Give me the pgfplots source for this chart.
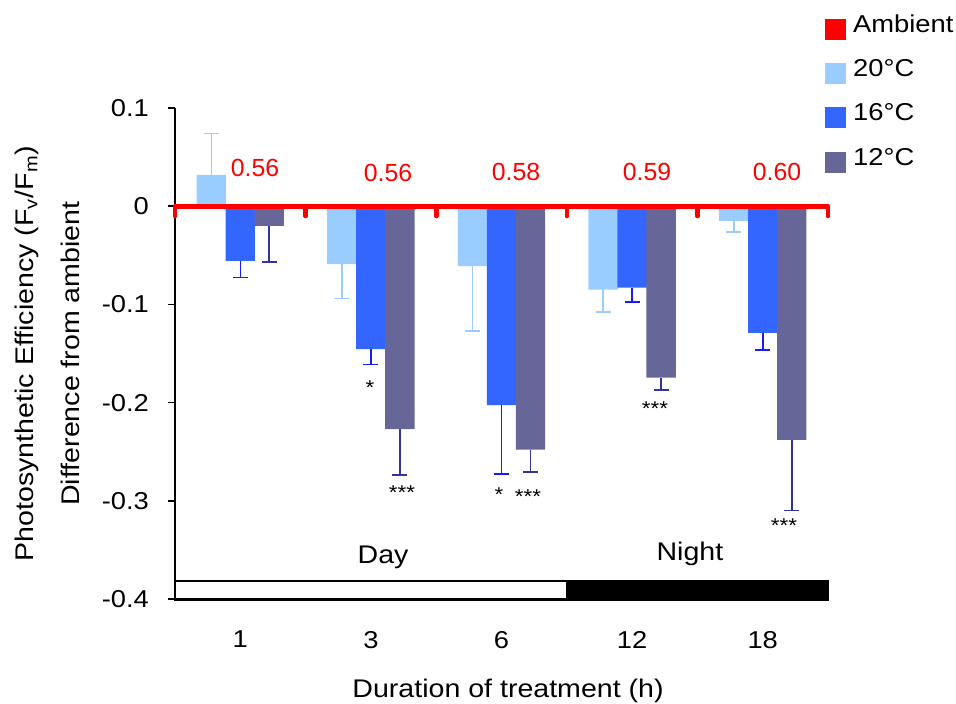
\documentclass[border=0pt]{standalone}
\usepackage{fontspec}
\setmainfont{Liberation Sans}[FakeStretch=1.12]
\newfontfamily\redfont{Liberation Sans}
\usepackage{pgfplots}
\pgfplotsset{compat=1.18}
\definecolor{c20}{HTML}{99CCFF}
\definecolor{c16}{HTML}{3366FF}
\definecolor{c12}{HTML}{666699}
\definecolor{e16}{HTML}{1A1AFF}
\definecolor{e12}{HTML}{333399}
\pgfplotsset{
  errstyle/.style 2 args={draw=none, forget plot,
    error bars/.cd, y dir=#1, y explicit,
    error bar style={#2, line width=0.8pt},
    error mark options={rotate=90, #2, mark size=3.75pt, line width=0.8pt}},
}
\begin{document}
\begin{tikzpicture}[font=\fontsize{12.75}{15.3}\selectfont]
\begin{axis}[
  name=ax,
  scale only axis,
  width=326.5pt, height=245.5pt,
  xmin=-0.5, xmax=4.5,
  ymin=-0.4, ymax=0.1,
  clip=false,
  axis y line*=left,
  axis x line*=bottom,
  x axis line style={draw=none},
  y axis line style={black, line width=0.8pt},
  xtick={0,1,2,3,4},
  xticklabels={1,3,6,12,18},
  xtick style={draw=none},
  xticklabel style={yshift=-9pt, font=\fontsize{12.2}{14.6}\selectfont},
  ytick={-0.4,-0.3,-0.2,-0.1,0,0.1},
  yticklabels={-0.4,-0.3,-0.2,-0.1,0,0.1},
  ytick style={black, line width=0.8pt},
  tick align=outside,
  major tick length=3.5pt,
  yticklabel style={xshift=-6pt, font=\fontsize{12.2}{14.6}\selectfont},
  xlabel={Duration of treatment (h)},
  xlabel style={at={(axis description cs:0.51,-0.1996)}, anchor=base},
  ylabel={Photosynthetic Efficiency (F\textsubscript{v}/F\textsubscript{m})\\[7.5pt]Difference from ambient},
  ylabel style={align=center, inner sep=0pt, at={(axis description cs:-0.1455,0.5)}, anchor=south},
  legend style={at={(rel axis cs:0.9954,1.191)}, anchor=north west, draw=none, fill=none,
    inner sep=0pt, row sep=10pt, nodes={inner sep=0pt},
    font=\fontsize{12.2}{14.6}\selectfont},
  legend cell align=left,
]
% legend
\addlegendimage{legend image code/.code={\fill[red] (0pt,-7pt) rectangle (10pt,3pt); \path (13.5pt,0pt);}}
\addlegendentry{Ambient}
\addlegendimage{legend image code/.code={\fill[c20] (0pt,-7pt) rectangle (10pt,3pt); \path (13.5pt,0pt);}}
\addlegendentry{20°C}
\addlegendimage{legend image code/.code={\fill[c16] (0pt,-7pt) rectangle (10pt,3pt); \path (13.5pt,0pt);}}
\addlegendentry{16°C}
\addlegendimage{legend image code/.code={\fill[c12] (0pt,-7pt) rectangle (10pt,3pt); \path (13.5pt,0pt);}}
\addlegendentry{12°C}

% day / night bar
\addplot[fill=white, draw=black, line width=1.1pt, forget plot] coordinates {(-0.5,-0.4005)(2.5,-0.4005)(2.5,-0.3815)(-0.5,-0.3815)} -- cycle;
\addplot[fill=black, draw=black, line width=1.1pt, forget plot] coordinates {(2.5,-0.4005)(4.5,-0.4005)(4.5,-0.3815)(2.5,-0.3815)} -- cycle;

% error bars (drawn at the bar centres)
\addplot[errstyle={plus}{c20}] coordinates {(-0.222,0.032) += (0,0.042)};
\addplot[errstyle={minus}{c20}] coordinates {
  (0.778,-0.059) -= (0,0.035)
  (1.778,-0.061) -= (0,0.066)
  (2.778,-0.085) -= (0,0.0226)
  (3.778,-0.015) -= (0,0.011)};
\addplot[errstyle={minus}{e16}] coordinates {
  (0,-0.0557) -= (0,0.017)
  (1,-0.1456) -= (0,0.0155)
  (2,-0.2026) -= (0,0.070)
  (3,-0.083) -= (0,0.0145)
  (4,-0.129) -= (0,0.0176)};
\addplot[errstyle={minus}{e12}] coordinates {
  (0.222,-0.020) -= (0,0.037)
  (1.222,-0.227) -= (0,0.047)
  (2.222,-0.248) -= (0,0.0225)
  (3.222,-0.1745) -= (0,0.0125)
  (4.222,-0.238) -= (0,0.072)};

% bars
\addplot[ybar, bar width=0.225, bar shift=-0.222, fill=c20, draw=none, forget plot]
  coordinates {(0,0.032)(1,-0.059)(2,-0.061)(3,-0.085)(4,-0.015)};
\addplot[ybar, bar width=0.225, bar shift=0, fill=c16, draw=none, forget plot]
  coordinates {(0,-0.0557)(1,-0.1456)(2,-0.2026)(3,-0.083)(4,-0.129)};
\addplot[ybar, bar width=0.225, bar shift=0.222, fill=c12, draw=none, forget plot]
  coordinates {(0,-0.020)(1,-0.227)(2,-0.248)(3,-0.1745)(4,-0.238)};

% ambient line
\addplot[red, line width=2.3pt, forget plot] coordinates {(-0.5,0)(4.5,0)};
\pgfplotsinvokeforeach{-0.5,0.5,1.5,2.5,3.5,4.5}{
  \addplot[red, line width=2.3pt, line cap=round, forget plot] coordinates {(#1,0)(#1,-0.010)};
}

% ambient values
\node[red, font=\redfont\fontsize{12.4}{15}\selectfont] at (axis cs:0.113,0.0387) {0.56};
\node[red, font=\redfont\fontsize{12.4}{15}\selectfont] at (axis cs:1.131,0.0336) {0.56};
\node[red, font=\redfont\fontsize{12.4}{15}\selectfont] at (axis cs:2.111,0.0346) {0.58};
\node[red, font=\redfont\fontsize{12.4}{15}\selectfont] at (axis cs:3.114,0.0346) {0.59};
\node[red, font=\redfont\fontsize{12.4}{15}\selectfont] at (axis cs:4.110,0.0346) {0.60};

% significance
\node[anchor=base, inner sep=0pt, font=\fontsize{10}{12}\selectfont] at (axis cs:0.993,-0.192) {*};
\node[anchor=base, inner sep=0pt, font=\fontsize{10}{12}\selectfont] at (axis cs:1.238,-0.2989) {***};
\node[anchor=base, inner sep=0pt, font=\fontsize{10}{12}\selectfont] at (axis cs:1.981,-0.3009) {*};
\node[anchor=base, inner sep=0pt, font=\fontsize{10}{12}\selectfont] at (axis cs:2.203,-0.3030) {***};
\node[anchor=base, inner sep=0pt, font=\fontsize{10}{12}\selectfont] at (axis cs:3.175,-0.2133) {***};
\node[anchor=base, inner sep=0pt, font=\fontsize{10}{12}\selectfont] at (axis cs:4.163,-0.3325) {***};

% day / night
\node[anchor=base] at (axis cs:1.093,-0.3635) {Day};
\node[anchor=base] at (axis cs:3.443,-0.3605) {Night};
\end{axis}
\pgfresetboundingbox
\path[use as bounding box] ([shift={(-87.5pt,-52pt)}]ax.south west) rectangle ([shift={(64pt,54pt)}]ax.north east);
\end{tikzpicture}
\end{document}
